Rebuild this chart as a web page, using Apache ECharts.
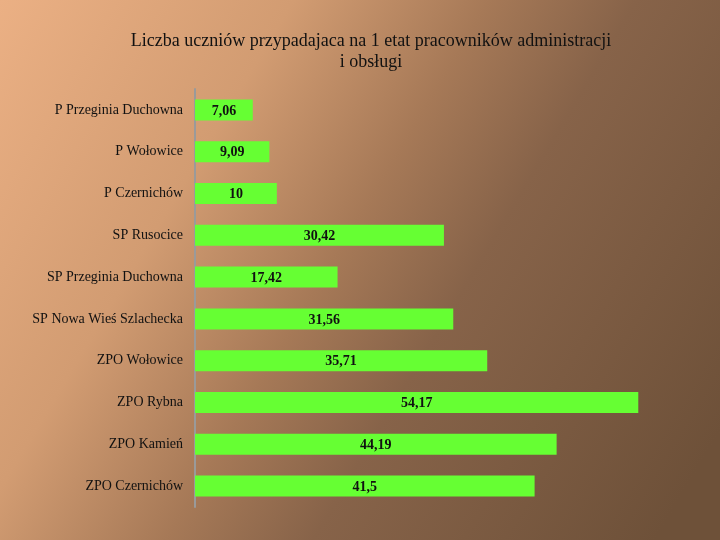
<!DOCTYPE html>
<html><head><meta charset="utf-8">
<script src="https://cdn.jsdelivr.net/npm/echarts@6/dist/echarts.min.js"></script>
<style>html,body{margin:0;padding:0;}#c{width:720px;height:540px;}</style>
</head><body><div id="c"></div>
<script>
const categories = ["P Przeginia Duchowna","P Wołowice","P Czernichów","SP Rusocice","SP Przeginia Duchowna","SP Nowa Wieś Szlachecka","ZPO Wołowice","ZPO Rybna","ZPO Kamień","ZPO Czernichów"];
const values = [7.06, 9.09, 10, 30.42, 17.42, 31.56, 35.71, 54.17, 44.19, 41.5];
const titleText = "Liczba uczniów przypadajaca na 1 etat pracowników administracji\ni obsługi";

const chart = echarts.init(document.getElementById('c'));
chart.setOption({
  backgroundColor: new echarts.graphic.LinearGradient(0, 0, 1, 0.8, [
    {offset: 0, color: '#ebb084'},
    {offset: 0.3, color: '#d29c72'},
    {offset: 0.5, color: '#a67957'},
    {offset: 0.65, color: '#876349'},
    {offset: 1, color: '#6e5139'}
  ]),
  animation: false,
  title: {
    text: titleText,
    left: 366, top: 26, textAlign: 'center',
    textStyle: {fontFamily: 'Liberation Serif', fontSize: 18, fontWeight: 'normal', color: '#111', lineHeight: 21}
  },
  grid: {left: 195, top: 89, width: 491, height: 418, containLabel: false},
  xAxis: {type: 'value', min: 0, max: 60, show: false},
  yAxis: {
    type: 'category', data: categories, inverse: true,
    axisLine: {show: true, lineStyle: {color: '#9a9a9a', width: 2}},
    axisTick: {show: false},
    axisLabel: {fontFamily: 'Liberation Serif', fontSize: 14, color: '#111', margin: 12}
  },
  series: [{
    type: 'bar', data: values, barWidth: 21,
    itemStyle: {color: '#66ff33'},
    label: {
      show: true, position: 'inside', offset: [0, 1],
      fontFamily: 'Liberation Serif', fontSize: 14, fontWeight: 'bold', color: '#111',
      formatter: p => String(p.value).replace('.', ',')
    }
  }]
});
</script></body></html>
